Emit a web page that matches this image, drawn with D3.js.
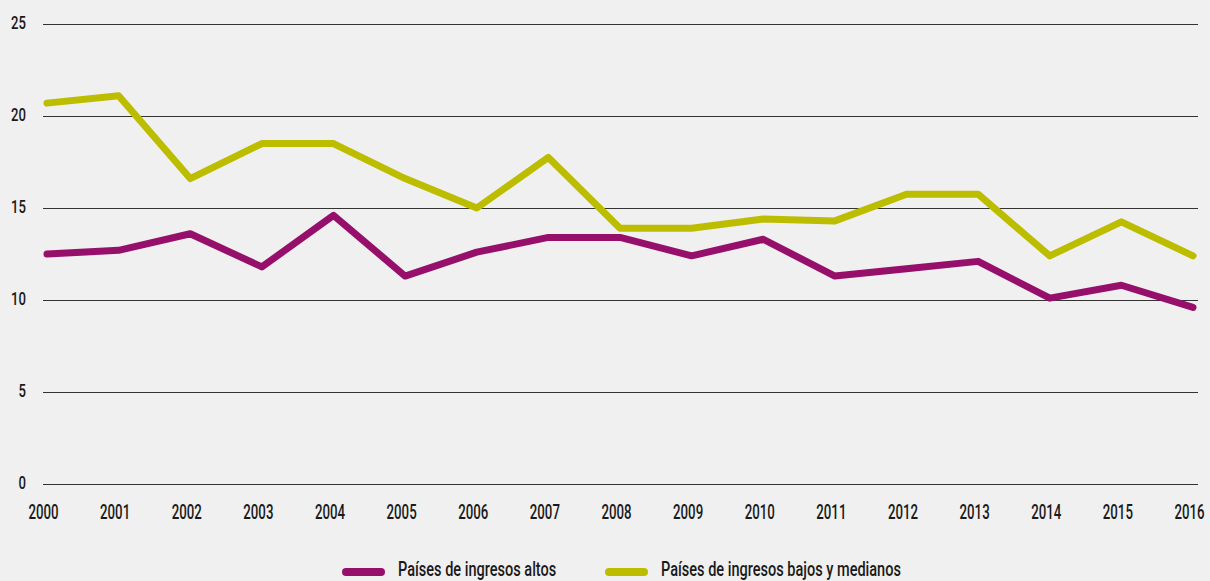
<!DOCTYPE html>
<html><head><meta charset="utf-8">
<script src="https://cdn.jsdelivr.net/npm/d3@7"></script>
<style>
html,body{margin:0;padding:0;background:#f0f0f0;}
svg{display:block;}
text{font-family:Roboto,"Noto Sans",sans-serif;fill:#1a1a1a;font-weight:500;}
</style></head>
<body>
<script>
const years = [2000,2001,2002,2003,2004,2005,2006,2007,2008,2009,2010,2011,2012,2013,2014,2015,2016];
const highIncome = [12.5,12.7,13.6,11.8,14.6,11.3,12.6,13.4,13.4,12.4,13.3,11.3,11.7,12.1,10.1,10.8,9.6];
const lowMidIncome = [20.7,21.1,16.6,18.5,18.5,16.6,15.0,17.75,13.9,13.9,14.4,14.3,15.75,15.75,12.4,14.25,12.4];
const yTicks = [0,5,10,15,20,25];
const seriesNames = ["Países de ingresos altos","Países de ingresos bajos y medianos"];
const colors = ["#960f6a","#bdbd00"];

const W = 1210, H = 581;
const SX = 0.68; // horizontal condensing of the axis text
const SL = 0.745; // horizontal condensing of the legend text
const svg = d3.select("body").append("svg").attr("width",W).attr("height",H);
svg.append("rect").attr("width",W).attr("height",H).attr("fill","#f0f0f0");

const x = d3.scalePoint().domain(years).range([47,1193]);
const y = d3.scaleLinear().domain([0,25]).range([484,24]);

// gridlines + y labels
const yAxis = d3.axisLeft(y).tickValues(yTicks).tickSize(-(1198-43)).tickPadding(0).tickFormat(d3.format("d"));
const gy = svg.append("g").attr("transform","translate(43,0)").call(yAxis);
gy.select(".domain").remove();
gy.selectAll(".tick line").attr("stroke","#333").attr("stroke-width",1);
gy.selectAll(".tick text").attr("font-size",17.5).attr("text-anchor","end")
  .attr("x",-17/0.75).attr("y",-1.5).attr("dy","0.35em").attr("transform","scale(0.75,1)");

// x labels
const xAxis = d3.axisBottom(x).tickSize(0).tickPadding(0);
const gx = svg.append("g").attr("transform","translate(-4,484)").call(xAxis);
gx.select(".domain").remove();
gx.selectAll(".tick text").attr("font-size",19.5).attr("y",35).attr("dy",0).attr("transform",`scale(${SX},1)`);

const line = d3.line().x((d,i)=>x(years[i])).y(d=>y(d));
[highIncome, lowMidIncome].forEach((s,k)=>{
  svg.append("path").datum(s).attr("d",line).attr("fill","none")
    .attr("stroke",colors[k]).attr("stroke-width",7)
    .attr("stroke-linecap","round").attr("stroke-linejoin","round");
});

// legend
const legX = [346, 609];
seriesNames.forEach((n,k)=>{
  svg.append("line").attr("x1",legX[k]).attr("x2",legX[k]+35).attr("y1",572).attr("y2",572)
    .attr("stroke",colors[k]).attr("stroke-width",8).attr("stroke-linecap","round");
  svg.append("g").attr("transform",`translate(${legX[k]+52},576) scale(${SL},1)`)
    .append("text").attr("x",0).attr("y",0).attr("font-size",19.5).text(n);
});
</script>
</body></html>
